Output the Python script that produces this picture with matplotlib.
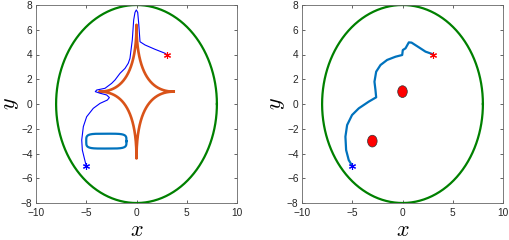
import numpy as np
import matplotlib.pyplot as plt
from matplotlib.patches import Ellipse

# workspace boundary (ellipse), start / goal
bound_center = (0, 0)
bound_radii = (8, 8)
start = (-5, -5)
goal = (3, 4)

# left panel: star-shaped and rounded-box obstacles (superellipse params)
star_center = (0, 1)
star_radii = (3.7, 5.4)
star_power = 0.5
box_center = (-3, -3)
box_radii = (2.0, 0.6)
box_power = 4.5

# left panel trajectory
left_x = [-5, -5.19, -5.39, -5.45, -5.29, -4.96, -4.3, -3.63, -2.9, -2.7, -2.97, -3.63,
          -4.1, -3.96, -3.13, -2.47, -2.14, -1.64, -1.14, -0.82, -0.65, -0.42, -0.28,
          -0.15, -0.02, 0.12, 0.22, 0.35, 0.85, 1.84, 2.84, 3]
left_y = [-5, -4.39, -3.72, -2.91, -1.83, -1.03, -0.35, 0.05, 0.32, 0.52, 0.73, 0.87,
          1.0, 1.13, 1.27, 1.67, 1.94, 2.48, 2.88, 3.29, 3.69, 5.17, 6.79,
          7.4, 7.6, 7.4, 6.5, 5.03, 4.77, 4.42, 4.1, 4]

# right panel: circular obstacles and trajectory
obs_x = [0, -3]
obs_y = [1, -3]
obs_d = 0.95
right_x = [-5, -5.35, -5.61, -5.68, -5.51, -5.02, -4.35, -3.36, -2.62, -2.69, -2.79,
           -2.62, -2.19, -1.53, -0.7, -0.03, 0.03, 0.3, 0.63, 0.9, 1.63, 2.29, 2.96, 3]
right_y = [-5, -4.53, -3.72, -2.64, -1.7, -0.89, -0.35, 0.19, 0.54, 1.13, 1.8,
           2.61, 3.15, 3.56, 3.82, 3.96, 4.36, 4.5, 4.98, 4.96, 4.58, 4.23, 4.04, 4]

MBLUE = '#0072BD'
MORANGE = '#D95319'
MGREEN = '#008000'


def superellipse(center, radii, p, n=600):
    t = np.linspace(0, 2 * np.pi, n)
    c, s = np.cos(t), np.sin(t)
    x = center[0] + radii[0] * np.sign(c) * np.abs(c) ** (2 / p)
    y = center[1] + radii[1] * np.sign(s) * np.abs(s) ** (2 / p)
    return x, y


def style_axes(ax):
    ax.set_xlim(-10, 10)
    ax.set_ylim(-8, 8)
    ax.set_xticks([-10, -5, 0, 5, 10])
    ax.set_yticks(range(-8, 9, 2))
    ax.tick_params(direction='in', top=True, right=True, length=2.5, width=0.5,
                   colors='#262626', labelsize=7.3)
    ax.tick_params(axis='x', pad=3.5)
    ax.tick_params(axis='y', pad=2.5)
    for sp in ax.spines.values():
        sp.set_color('#666666')
        sp.set_linewidth(0.6)
    ax.set_xlabel(r'$x$', fontsize=16, labelpad=1.5)
    ax.set_ylabel(r'$y$', fontsize=16, labelpad=0)


plt.rcParams['font.family'] = ['Liberation Sans', 'DejaVu Sans']
plt.rcParams['mathtext.fontset'] = 'cm'

fig = plt.figure(figsize=(5.09, 2.40), dpi=100)
ax1 = fig.add_axes([36 / 509, 37 / 240, 201 / 509, 198 / 240])
ax2 = fig.add_axes([302 / 509, 37 / 240, 201 / 509, 198 / 240])

for ax in (ax1, ax2):
    bx, by = superellipse(bound_center, bound_radii, 2)
    ax.plot(bx, by, color=MGREEN, lw=1.6)

# left
sx, sy = superellipse(star_center, star_radii, star_power, 2000)
ax1.plot(sx, sy, color=MORANGE, lw=1.9)
rx, ry = superellipse(box_center, box_radii, box_power)
ax1.plot(rx, ry, color=MBLUE, lw=1.6)
ax1.plot(left_x, left_y, color='b', lw=0.8)

# right
for ox, oy in zip(obs_x, obs_y):
    ax2.add_patch(Ellipse((ox, oy), obs_d, obs_d, facecolor='red',
                          edgecolor='#333333', lw=0.5, zorder=3))
ax2.plot(right_x, right_y, color=MBLUE, lw=1.6)

for ax in (ax1, ax2):
    ax.plot(*start, marker=(6, 2, 0), color='b', ms=5, mew=0.8, zorder=4)
    ax.plot(*goal, marker=(6, 2, 0), color='r', ms=5, mew=0.8, zorder=4)
    style_axes(ax)

fig.savefig('out.png', dpi=100)
